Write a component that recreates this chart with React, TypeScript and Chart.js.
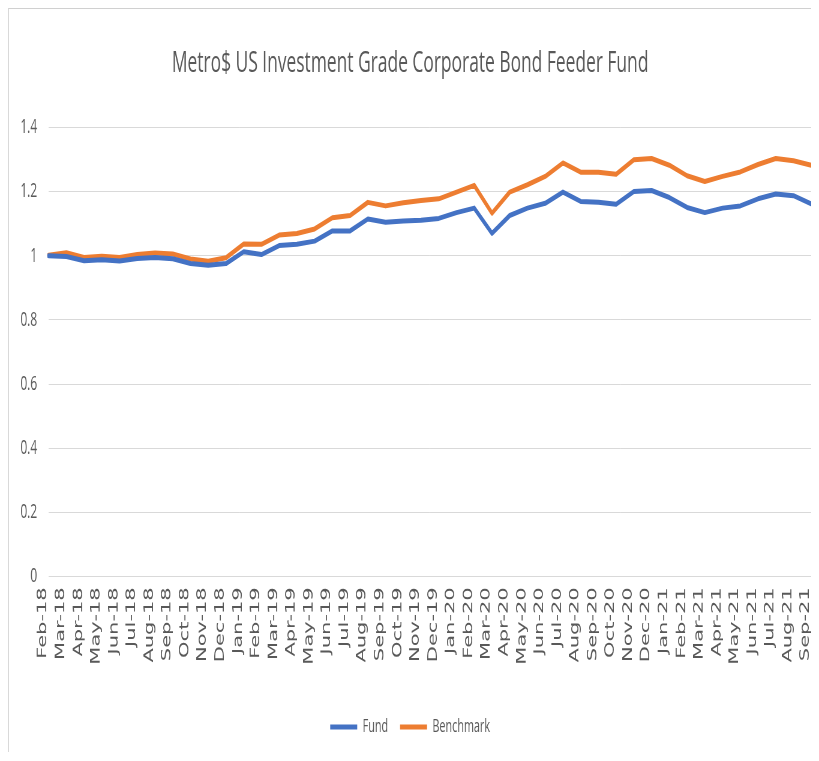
import React, { useEffect, useRef } from "react";
import { Chart, registerables } from "chart.js";

Chart.register(...registerables);

const categories = [
  "Feb-18", "Mar-18", "Apr-18", "May-18", "Jun-18", "Jul-18", "Aug-18", "Sep-18", "Oct-18", "Nov-18", "Dec-18",
  "Jan-19", "Feb-19", "Mar-19", "Apr-19", "May-19", "Jun-19", "Jul-19", "Aug-19", "Sep-19", "Oct-19", "Nov-19", "Dec-19",
  "Jan-20", "Feb-20", "Mar-20", "Apr-20", "May-20", "Jun-20", "Jul-20", "Aug-20", "Sep-20", "Oct-20", "Nov-20", "Dec-20",
  "Jan-21", "Feb-21", "Mar-21", "Apr-21", "May-21", "Jun-21", "Jul-21", "Aug-21", "Sep-21",
];

const fundValues = [
  1.0, 0.998, 0.985, 0.988, 0.984, 0.992, 0.995, 0.991, 0.976, 0.971, 0.976,
  1.013, 1.004, 1.032, 1.036, 1.046, 1.078, 1.078, 1.115, 1.105, 1.109, 1.111, 1.117,
  1.135, 1.149, 1.07, 1.126, 1.149, 1.164, 1.199, 1.17, 1.167, 1.161, 1.201, 1.204,
  1.182, 1.151, 1.135, 1.149, 1.156, 1.178, 1.193, 1.188, 1.162,
];

const benchmarkValues = [
  1.002, 1.01, 0.995, 0.999, 0.995, 1.004, 1.009, 1.006, 0.99, 0.983, 0.994,
  1.037, 1.036, 1.065, 1.07, 1.084, 1.119, 1.126, 1.167, 1.156, 1.166, 1.173, 1.178,
  1.199, 1.22, 1.133, 1.199, 1.222, 1.248, 1.29, 1.261, 1.261, 1.255, 1.3, 1.304,
  1.283, 1.25, 1.232, 1.248, 1.262, 1.285, 1.304, 1.297, 1.283,
];

const yTickValues = [0, 0.2, 0.4, 0.6, 0.8, 1, 1.2, 1.4];
const yTickLabels = ["0", "0.2", "0.4", "0.6", "0.8", "1", "1.2", "1.4"];

const titleText = "Metro$ US Investment Grade Corporate Bond Feeder Fund";
const seriesNames = ["Fund", "Benchmark"];
const seriesColors = ["#4472C4", "#ED7D31"];

const SQUEEZE = 0.6;
const BOX_W = 811;
const BOX_H = 744;
const CANVAS_W = Math.round((BOX_W - 1) / SQUEEZE);
const CANVAS_H = BOX_H - 1;

export default function App() {
  const ref = useRef<HTMLCanvasElement>(null);

  useEffect(() => {
    document.body.style.overflow = "hidden";
    const canvas = ref.current;
    if (!canvas) return;
    const textColor = "#595959";
    const chart = new Chart(canvas, {
      type: "line",
      data: {
        labels: categories,
        datasets: [fundValues, benchmarkValues].map((d, i) => ({
          label: seriesNames[i],
          data: d,
          borderColor: seriesColors[i],
          backgroundColor: seriesColors[i],
          borderWidth: 5,
          pointRadius: 0,
          pointHoverRadius: 0,
          tension: 0,
          borderCapStyle: "round" as const,
          borderJoinStyle: "round" as const,
          fill: false,
        })),
      },
      options: {
        responsive: false,
        animation: false,
        devicePixelRatio: 1,
        layout: { autoPadding: false, padding: { left: 0, right: 13, top: 0, bottom: 6 } },
        plugins: {
          title: {
            display: true,
            text: titleText,
            color: textColor,
            font: { family: "'Open Sans', sans-serif", size: 29, weight: "normal", lineHeight: 1.2 },
            padding: { top: 37.6, bottom: 46.3 },
          },
          legend: {
            position: "bottom",
            labels: {
              color: textColor,
              font: { family: "'Open Sans', sans-serif", size: 18 },
              boxWidth: 45,
              boxHeight: 5,
              padding: 20,
              generateLabels: (c: any) =>
                Chart.defaults.plugins.legend.labels.generateLabels(c).map((l: any, i: number) => ({
                  ...l,
                  lineWidth: 0,
                  fillStyle: seriesColors[i],
                })),
            },
          },
          tooltip: { enabled: false },
        },
        scales: {
          x: {
            grid: { display: false, drawTicks: false },
            border: { display: true, color: "#d9d9d9" },
            ticks: {
              autoSkip: false,
              maxRotation: 90,
              minRotation: 90,
              padding: 11,
              labelOffset: -9,
              color: textColor,
              font: { family: "'DejaVu Sans', sans-serif", size: 21 },
            },
            afterFit: (s: any) => {
              s.height = 121.7;
              s.paddingLeft = 0;
              s.paddingRight = 0;
            },
          },
          y: {
            min: 0,
            max: 1.4,
            afterBuildTicks: (s: any) => {
              s.ticks = yTickValues.map((v) => ({ value: v }));
            },
            ticks: {
              padding: 19,
              color: textColor,
              font: { family: "'Open Sans', sans-serif", size: 20 },
              callback: (v: any) => {
                const idx = yTickValues.findIndex((t) => Math.abs(t - Number(v)) < 1e-6);
                return idx >= 0 ? yTickLabels[idx] : "";
              },
            },
            grid: { color: "#d9d9d9", drawTicks: false, lineWidth: 1 },
            border: { display: false },
            afterFit: (s: any) => {
              s.width = 66;
              s.paddingTop = 0;
              s.paddingBottom = 0;
            },
          },
        },
      },
    } as any);
    return () => chart.destroy();
  }, []);

  return (
    <div
      style={{
        position: "relative",
        width: BOX_W,
        height: BOX_H,
        boxSizing: "border-box",
        borderLeft: "1px solid #d9d9d9",
        borderTop: "1px solid #d0d0d0",
        overflow: "hidden",
        background: "#fff",
      }}
    >
      <canvas
        ref={ref}
        width={CANVAS_W}
        height={CANVAS_H}
        style={{
          display: "block",
          width: CANVAS_W,
          height: CANVAS_H,
          transform: `scaleX(${SQUEEZE})`,
          transformOrigin: "0 0",
        }}
      />
    </div>
  );
}
